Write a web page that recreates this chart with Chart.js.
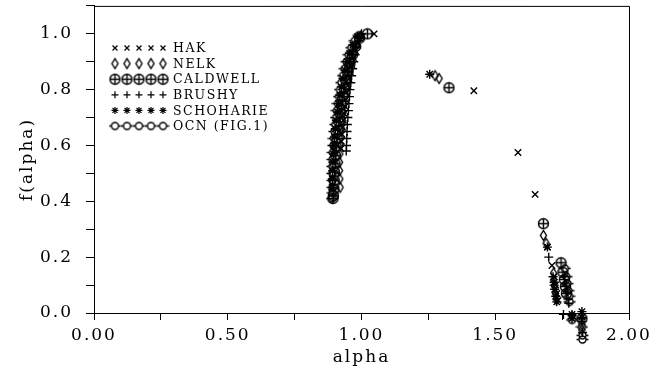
<!DOCTYPE html>
<html lang="en">
<head>
    <meta charset="UTF-8">
    <title>f(alpha) spectra</title>
    <script src="https://cdn.jsdelivr.net/npm/chart.js"></script>
    <style>
        html, body { margin: 0; padding: 0; background: #fff; }
        #wrap { width: 662px; height: 368px; }
    </style>
</head>
<body>
    <div id="wrap"><canvas id="spectrumChart" width="662" height="368"></canvas></div>
    <script>
        // series names (legend order)
        var seriesNames = ['HAK', 'NELK', 'CALDWELL', 'BRUSHY', 'SCHOHARIE', 'OCN (FIG.1)'];

        // HAK (x)
        var hakAlpha = [1.047, 0.998, 0.986, 0.977, 0.970, 0.964, 0.958, 0.953, 0.949, 0.945, 0.941, 0.938, 0.935, 0.932, 0.929, 0.927, 0.925, 0.923,
                        1.42, 1.585, 1.649, 1.695, 1.712, 1.72, 1.725, 1.73, 1.735];
        var hakF     = [1.0, 0.99, 0.965, 0.94, 0.915, 0.89, 0.865, 0.84, 0.815, 0.79, 0.765, 0.74, 0.715, 0.69, 0.665, 0.64, 0.615, 0.59,
                        0.796, 0.575, 0.425, 0.236, 0.17, 0.13, 0.1, 0.07, 0.045];
        // NELK (diamond)
        var nelkAlpha = [0.996, 0.982, 0.971, 0.963, 0.956, 0.950, 0.945, 0.940, 0.936, 0.932, 0.929, 0.926, 0.923, 0.921, 0.919, 0.918, 0.918, 0.919, 0.920,
                         1.275, 1.29, 1.68, 1.69, 1.718, 1.718, 1.722, 1.725, 1.728, 1.824, 1.824];
        var nelkF     = [0.99, 0.96, 0.93, 0.90, 0.87, 0.84, 0.81, 0.78, 0.75, 0.72, 0.69, 0.66, 0.63, 0.60, 0.57, 0.54, 0.51, 0.48, 0.45,
                         0.85, 0.84, 0.278, 0.25, 0.143, 0.118, 0.095, 0.07, 0.05, -0.04, -0.06];
        // CALDWELL (circle plus)
        var caldAlpha = [1.022, 0.993, 0.978, 0.966, 0.957, 0.949, 0.942, 0.936, 0.930, 0.925, 0.920, 0.916, 0.912, 0.909, 0.906, 0.903, 0.901, 0.899, 0.898, 0.897, 0.895, 0.893,
                         1.327, 1.68, 1.746, 1.753, 1.758, 1.762, 1.766, 1.824];
        var caldF     = [1.0, 0.985, 0.955, 0.925, 0.895, 0.865, 0.835, 0.805, 0.775, 0.745, 0.715, 0.685, 0.655, 0.625, 0.595, 0.565, 0.535, 0.505, 0.475, 0.445, 0.42, 0.41,
                         0.807, 0.32, 0.18, 0.146, 0.12, 0.095, 0.07, -0.02];
        // BRUSHY (+)
        var brushyAlpha = [1.0, 0.99, 0.982, 0.976, 0.971, 0.967, 0.963, 0.960, 0.957, 0.955, 0.953, 0.951, 0.949, 0.947, 0.946, 0.945, 0.944, 0.943,
                           1.70, 1.716, 1.72, 1.76, 1.765, 1.77, 1.772, 1.775, 1.755, 1.787, 1.824, 1.826];
        var brushyF     = [1.0, 0.975, 0.95, 0.925, 0.90, 0.875, 0.85, 0.825, 0.80, 0.775, 0.75, 0.725, 0.70, 0.675, 0.65, 0.625, 0.60, 0.58,
                           0.2, 0.13, 0.1, 0.13, 0.1, 0.075, 0.05, 0.035, -0.005, -0.01, -0.03, -0.07];
        // SCHOHARIE (*)
        var schoAlpha = [0.985, 0.968, 0.956, 0.946, 0.938, 0.931, 0.925, 0.919, 0.914, 0.910, 0.906, 0.902, 0.899, 0.897, 0.895, 0.893, 0.892, 0.891, 0.890,
                         1.255, 1.695, 1.72, 1.722, 1.726, 1.73, 1.787, 1.787, 1.824, 1.824];
        var schoF     = [0.99, 0.96, 0.93, 0.90, 0.87, 0.84, 0.81, 0.78, 0.75, 0.72, 0.69, 0.66, 0.63, 0.60, 0.57, 0.54, 0.51, 0.48, 0.45,
                         0.855, 0.236, 0.11, 0.085, 0.06, 0.04, -0.005, -0.02, 0.005, -0.015];
        // OCN (FIG.1)
        var ocnAlpha = [0.99, 0.975, 0.962, 0.952, 0.944, 0.937, 0.931, 0.925, 0.92, 0.916, 0.912, 0.908, 0.905, 0.902, 0.899, 0.897, 0.895, 0.893, 0.892, 0.891, 0.891, 0.892, 0.893, 0.892, 0.89,
                        1.76, 1.766, 1.77, 1.773, 1.776, 1.778, 1.787, 1.824, 1.826, 1.826];
        var ocnF     = [0.995, 0.975, 0.95, 0.925, 0.90, 0.875, 0.85, 0.825, 0.80, 0.775, 0.75, 0.725, 0.70, 0.675, 0.65, 0.625, 0.60, 0.575, 0.55, 0.525, 0.50, 0.475, 0.45, 0.43, 0.41,
                        0.16, 0.13, 0.105, 0.08, 0.06, 0.04, -0.025, -0.05, -0.08, -0.095];

        var xTickLabels = ['0.00', '0.50', '1.00', '1.50', '2.00'];
        var yTickLabels = ['0.0', '0.2', '0.4', '0.6', '0.8', '1.0'];

        function pairs(xs, ys) {
            return xs.map(function (x, i) { return { x: x, y: ys[i] }; });
        }

        // small canvases for markers Chart.js has no built-in shape for
        function makeMarker(kind) {
            var c = document.createElement('canvas');
            c.width = 13; c.height = 13;
            var g = c.getContext('2d');
            g.strokeStyle = '#000';
            g.lineWidth = 1.4;
            g.beginPath();
            if (kind === 'oplus') {
                g.arc(6.5, 6.5, 5, 0, Math.PI * 2);
                g.moveTo(6.5, 1.5); g.lineTo(6.5, 11.5);
                g.moveTo(1.5, 6.5); g.lineTo(11.5, 6.5);
            } else if (kind === 'diamond') {
                g.moveTo(6.5, 1.5); g.lineTo(9.5, 6.5); g.lineTo(6.5, 11.5); g.lineTo(3.5, 6.5); g.closePath();
            } else if (kind === 'ocn') {
                g.arc(6.5, 6.5, 3.5, 0, Math.PI * 2);
                g.moveTo(0.5, 6.5); g.lineTo(3, 6.5);
                g.moveTo(10, 6.5); g.lineTo(12.5, 6.5);
            }
            g.stroke();
            return c;
        }

        var styles = ['crossRot', makeMarker('diamond'), makeMarker('oplus'), 'cross', 'star', makeMarker('ocn')];
        var xs = [hakAlpha, nelkAlpha, caldAlpha, brushyAlpha, schoAlpha, ocnAlpha];
        var ys = [hakF, nelkF, caldF, brushyF, schoF, ocnF];

        var datasets = seriesNames.map(function (name, i) {
            return {
                label: name,
                data: pairs(xs[i], ys[i]),
                pointStyle: styles[i],
                pointRadius: 4.5,
                pointBorderWidth: 1.4,
                borderColor: '#000',
                backgroundColor: 'rgba(0,0,0,0)',
                showLine: false,
                clip: false
            };
        });

        // legend drawn like the original: five markers then the name
        var legendPlugin = {
            id: 'rowLegend',
            afterDraw: function (chart) {
                var ctx = chart.ctx;
                ctx.save();
                ctx.font = '12.5px "DejaVu Serif"';
                ctx.letterSpacing = '1.5px';
                ctx.fillStyle = '#000';
                ctx.strokeStyle = '#000';
                ctx.lineWidth = 1.2;
                ctx.textBaseline = 'middle';
                seriesNames.forEach(function (name, i) {
                    var y = 48 + i * 15.6;
                    for (var k = 0; k < 5; k++) {
                        Chart.helpers.drawPoint(ctx, { pointStyle: styles[i], radius: 3.5, borderWidth: 1.2 }, 115 + k * 12, y);
                    }
                    ctx.fillText(name, 173, y + 1);
                });
                ctx.restore();
            }
        };

        var spacing = {
            id: 'spacing',
            beforeDraw: function (chart) { chart.ctx.letterSpacing = '2px'; }
        };

        // the original lets marks below f = 0 hang under the axis
        var looseArea = {
            id: 'looseArea',
            beforeDatasetsDraw: function (chart) {
                this._b = chart.chartArea.bottom;
                chart.chartArea.bottom += 45;
            },
            afterDatasetsDraw: function (chart) {
                chart.chartArea.bottom = this._b;
            }
        };

        var chart = new Chart(document.getElementById('spectrumChart').getContext('2d'), {
            type: 'scatter',
            data: { datasets: datasets },
            options: {
                responsive: false,
                animation: false,
                layout: { padding: { top: 5, right: 33, left: 0, bottom: 0 } },
                plugins: { legend: { display: false }, tooltip: { enabled: false } },
                scales: {
                    x: {
                        min: 0, max: 2,
                        afterFit: function (s) { s.height = 55; s.paddingLeft = 0; s.paddingRight = 0; },
                        border: { color: '#000', width: 1 },
                        grid: { drawOnChartArea: false, tickLength: 7, color: '#000' },
                        ticks: {
                            stepSize: 0.25, autoSkip: false, maxRotation: 0, padding: 5,
                            color: '#000', font: { family: 'DejaVu Serif', size: 17 },
                            callback: function (v) {
                                var i = Math.round(v / 0.5);
                                return Math.abs(v - i * 0.5) < 1e-6 ? xTickLabels[i] : '';
                            }
                        },
                        title: { display: true, text: 'alpha', color: '#000', padding: 0,
                                 font: { family: 'DejaVu Serif', size: 17 } }
                    },
                    y: {
                        min: 0, max: 1.1,
                        afterFit: function (s) { s.width = 94; s.paddingTop = 0; s.paddingBottom = 0; },
                        border: { color: '#000', width: 1 },
                        grid: { drawOnChartArea: false, tickLength: 8, color: '#000' },
                        ticks: {
                            stepSize: 0.1, autoSkip: false, padding: 13,
                            color: '#000', font: { family: 'DejaVu Serif', size: 17 },
                            callback: function (v) {
                                var i = Math.round(v / 0.2);
                                return Math.abs(v - i * 0.2) < 1e-6 && yTickLabels[i] ? yTickLabels[i] : '';
                            }
                        },
                        title: { display: true, text: 'f(alpha)', color: '#000', padding: { top: 17, bottom: 0 },
                                 font: { family: 'DejaVu Serif', size: 17 } }
                    }
                }
            },
            plugins: [spacing, looseArea, legendPlugin, {
                id: 'frame',
                afterDraw: function (chart) {
                    var a = chart.chartArea, ctx = chart.ctx;
                    ctx.save();
                    ctx.strokeStyle = '#000';
                    ctx.lineWidth = 1;
                    ctx.beginPath();
                    ctx.moveTo(a.left, a.top + 0.5); ctx.lineTo(a.right + 0.5, a.top + 0.5); ctx.lineTo(a.right + 0.5, a.bottom);
                    ctx.stroke();
                    ctx.restore();
                }
            }]
        });
    </script>
</body>
</html>
